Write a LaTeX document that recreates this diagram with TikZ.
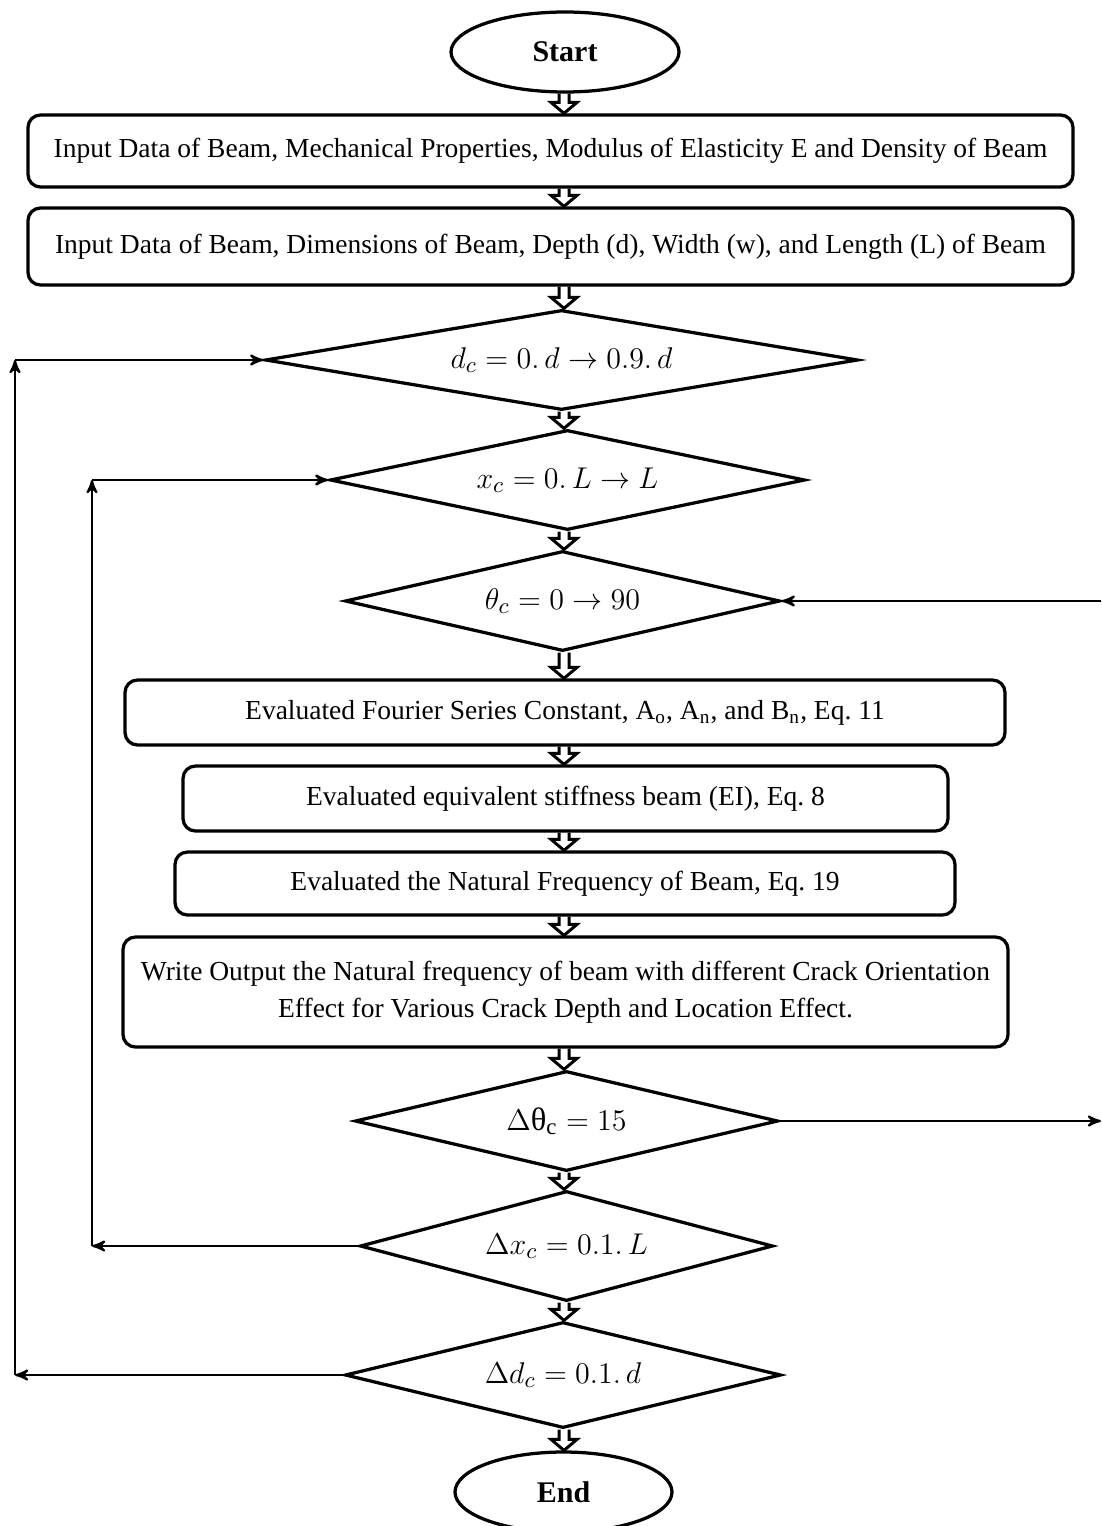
\documentclass[tikz,border=0pt]{standalone}
\usepackage{amsmath}
\usepackage{fontspec}
\setmainfont{Liberation Serif}
\usepackage{tikz}
\usetikzlibrary{calc}
\usetikzlibrary{arrows}
\usetikzlibrary{shapes.geometric}
\newcommand{\px}{0.4pt}
\tikzset{
  myarrow/.style={
    draw=black,
    line width=0.9pt,
    ->,
    >=stealth',
  },
  myblock/.style={
    draw=black,
    line width=1.2pt,
    line join=miter,
  },
  myellipse/.style={
    draw=black,
    shape=ellipse,
    line width=1.3pt,
    inner sep=0pt,
    font=\fontsize{12}{14}\selectfont\bfseries,
  },
  mysquare/.style={
    draw=black,
    shape=rectangle,
    line width=1.3pt,
    rounded corners=5pt,
    align=center,
    inner sep=0pt,
    font=\fontsize{11}{15}\selectfont,
  },
  mydiamond/.style={
    draw=black,
    shape=diamond,
    line width=1.3pt,
    inner sep=0pt,
    font=\fontsize{13}{15}\selectfont,
  },
}
% hollow arrow between two nodes, on the main axis
\newcommand{\blockarrow}[2]{%
  \draw[myblock] ($(#1.south -| axis)+(-5,0)$) -- ($(#2.north -| axis)+(-5,-11)$)
    -- ($(#2.north -| axis)+(-13,-11)$) -- (#2.north -| axis) -- ($(#2.north -| axis)+(13,-11)$)
    -- ($(#2.north -| axis)+(5,-11)$) -- ($(#1.south -| axis)+(5,0)$);}

\begin{document}
\begin{tikzpicture}[x=\px, y=-\px]
    \useasboundingbox (0,0) rectangle (1101,1526);
    \coordinate (axis) at (564, 0);

    \node [myellipse, minimum width=228*\px, minimum height=80*\px] (start) at (565, 52) {Start};

    \node [mysquare, minimum width=1045*\px, minimum height=72*\px] (mech) at (550.5, 151)
      {Input Data of Beam, Mechanical Properties, Modulus of Elasticity E and Density of Beam};
    \node [mysquare, minimum width=1045*\px, minimum height=77*\px] (dims) at (550.5, 246.5)
      {Input Data of Beam, Dimensions of Beam, Depth (d), Width (w), and Length (L) of Beam};

    \node [mydiamond, aspect=5.93, minimum width=593*\px, minimum height=100*\px] (depth) at (561.5, 360)
      {$d_c = 0.\,d \rightarrow 0.9.\,d$};
    \node [mydiamond, aspect=4.75, minimum width=475*\px, minimum height=100*\px] (loc) at (567.5, 480)
      {$x_c = 0.\,L \rightarrow L$};
    \node [mydiamond, aspect=4.35, minimum width=435*\px, minimum height=100*\px] (orient) at (562.5, 601)
      {$\theta_c = 0 \rightarrow 90$};

    \node [mysquare, minimum width=880*\px, minimum height=65*\px] (fourier) at (565, 712.5)
      {Evaluated Fourier Series Constant, A\textsubscript{o}, A\textsubscript{n}, and B\textsubscript{n}, Eq.\ 11};
    \node [mysquare, minimum width=765*\px, minimum height=65*\px] (stiff) at (565.5, 798.5)
      {Evaluated equivalent stiffness beam (EI), Eq.\ 8};
    \node [mysquare, minimum width=780*\px, minimum height=63*\px] (freq) at (565, 883.5)
      {Evaluated the Natural Frequency of Beam, Eq.\ 19};
    \node [mysquare, minimum width=885*\px, minimum height=110*\px] (output) at (565.5, 992)
      {Write Output the Natural frequency of beam with different Crack Orientation\\
       Effect for Various Crack Depth and Location Effect.};

    \node [mydiamond, aspect=4.23, minimum width=423*\px, minimum height=100*\px] (dorient) at (566.5, 1121)
      {$\Delta\text{θ}_{\mathrm{c}} = 15$};
    \node [mydiamond, aspect=3.75, minimum width=413*\px, minimum height=110*\px] (dloc) at (566.5, 1246)
      {$\Delta x_c = 0.1.\,L$};
    \node [mydiamond, aspect=4.11, minimum width=436*\px, minimum height=106*\px] (ddepth) at (563, 1375)
      {$\Delta d_c = 0.1.\,d$};

    \node [myellipse, minimum width=217*\px, minimum height=80*\px] (end) at (563.5, 1492) {End};

    % main flow
    \blockarrow{start}{mech}
    \blockarrow{mech}{dims}
    \blockarrow{dims}{depth}
    \blockarrow{depth}{loc}
    \blockarrow{loc}{orient}
    \blockarrow{orient}{fourier}
    \blockarrow{fourier}{stiff}
    \blockarrow{stiff}{freq}
    \blockarrow{freq}{output}
    \blockarrow{output}{dorient}
    \blockarrow{dorient}{dloc}
    \blockarrow{dloc}{ddepth}
    \blockarrow{ddepth}{end}

    % loops
    \coordinate (r4) at (1101, 1121);
    \coordinate (r3) at (1101, 601);
    \draw [myarrow] (dorient.east) -- (r4);
    \draw [myarrow] (r3) -- (orient.east);

    \coordinate (l5) at (92, 1246);
    \coordinate (l2) at (92, 480);
    \draw [myarrow] (dloc.west) -- (l5);
    \draw [myarrow] (l5) -- (l2);
    \draw [myarrow] (l2) -- (loc.west);

    \coordinate (l6) at (15, 1375);
    \coordinate (l1) at (15, 360);
    \draw [myarrow] (ddepth.west) -- (l6);
    \draw [myarrow] (l6) -- (l1);
    \draw [myarrow] (l1) -- (depth.west);

  \end{tikzpicture}
\end{document}
